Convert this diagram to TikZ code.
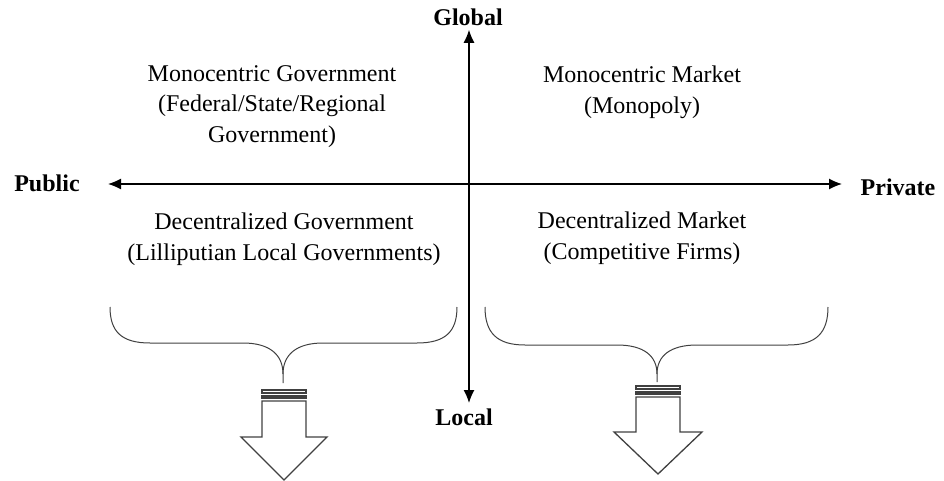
\documentclass[tikz,border=0pt]{standalone}
\usepackage{fontspec}
\setmainfont{Liberation Serif}
\usetikzlibrary{arrows.meta}

\begin{document}
\begin{tikzpicture}[x=1pt,y=-1pt,
  axis/.style={line width=1.3pt, {Latex[length=13pt,width=11pt]}-{Latex[length=13pt,width=11pt]}},
  brace/.style={line width=1pt, draw=black!75},
  block/.style={line width=1.3pt, draw=black!75, line join=miter},
  txt/.style={font=\fontsize{24}{30.5}\selectfont, align=center, inner sep=0pt, anchor=north},
  pole/.style={font=\fontsize{24}{29}\selectfont\bfseries}]

\useasboundingbox (0,0) rectangle (944,481) ;

% poles
\node [pole, anchor=base] (glob) at (468,26) {Global} ;
\node [pole, anchor=base] (loc) at (464,425) {Local} ;
\node [pole, anchor=base] (pub) at (47,192) {Public} ;
\node [pole, anchor=base] (priv) at (898,195) {Private} ;
\coordinate (west) at (108,184) ;
\coordinate (east) at (842,184) ;

\draw [axis] (glob.south -| 469,0) -- (469,403) ;
\draw [axis] (west) -- (east) ;

% quadrants
\node [txt] (mongov) at (272,65) {Monocentric Government\\(Federal/State/Regional\\Government)} ;
\node [txt] (monmkt) at (642,66) {Monocentric Market\\(Monopoly)} ;
\node [txt] (decgov) at (284,213) {Decentralized Government\\(Lilliputian Local Governments)} ;
\node [txt] (decmkt) at (642,212) {Decentralized Market\\(Competitive Firms)} ;

% braces
\draw [brace] (110,307) .. controls (110,332) and (122,343) .. (150,343) -- (243,343)
  .. controls (270,343) and (283,355) .. (283,374) -- (283,383) ;
\draw [brace] (457,307) .. controls (457,332) and (445,343) .. (417,343) -- (323,343)
  .. controls (296,343) and (283,355) .. (283,374) ;
\draw [brace] (485,307) .. controls (485,333) and (497,345) .. (525,345) -- (617,345)
  .. controls (644,345) and (657,356) .. (657,374) -- (657,382) ;
\draw [brace] (828,307) .. controls (828,333) and (816,345) .. (788,345) -- (697,345)
  .. controls (670,345) and (657,356) .. (657,374) ;

% striped arrows
\draw [block] (262,390) rectangle (306,393) ;
\draw [block] (262,396) rectangle (306,398) ;
\draw [block] (262,401) -- (306,401) -- (306,437) -- (327,437) -- (284,480)
  -- (241,437) -- (262,437) -- cycle ;
\draw [block] (636,386) rectangle (680,389) ;
\draw [block] (636,392) rectangle (680,394) ;
\draw [block] (636,397) -- (680,397) -- (680,432) -- (702,432) -- (658,474)
  -- (614,432) -- (636,432) -- cycle ;
\end{tikzpicture}
\end{document}
